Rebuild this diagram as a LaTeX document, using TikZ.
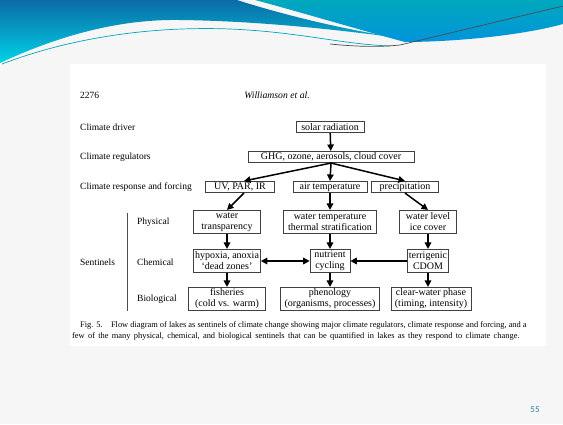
\documentclass[tikz,border=0pt]{standalone}
\usepackage{fontspec}
\setmainfont{Liberation Serif}
\newfontfamily\slidefont{Carlito}
\usetikzlibrary{arrows.meta}

\definecolor{hdrdark}{HTML}{0A6CA6}
\definecolor{hdrcyan}{HTML}{00D2E6}
\definecolor{hdrteal}{HTML}{00A8BC}
\definecolor{hdrblue}{HTML}{0094DC}
\definecolor{slidebg}{HTML}{F6F6F6}
\definecolor{pagenum}{HTML}{2F7FA6}

\tikzset{
  box/.style={draw=black!75, line width=0.6pt, fill=white, inner sep=1pt,
    align=center, font=\rmfamily\fontsize{10}{11}\selectfont},
  onebox/.style={box, minimum height=11.5pt},
  twobox/.style={box, minimum height=23.5pt},
  rowlabel/.style={anchor=west, inner sep=0pt, font=\rmfamily\fontsize{9.5}{11}\selectfont},
  captext/.style={anchor=west, inner sep=0pt, font=\rmfamily\fontsize{8.4}{9}\selectfont},
  flow/.style={-{Triangle[length=6.5pt,width=6.5pt]}, line width=1.5pt},
  flowboth/.style={{Triangle[length=6.5pt,width=6.5pt]}-{Triangle[length=6.5pt,width=6.5pt]}, line width=1.5pt},
}

\begin{document}
\begin{tikzpicture}[x=1pt, y=-1pt]
    \useasboundingbox (0,0) rectangle (563,424);
    \fill[slidebg] (0,0) rectangle (563,424);

    % Header wave
    \shade[top color=hdrdark, bottom color=hdrcyan]
        (0,0) -- (237,0) .. controls (300,20) and (360,32) .. (400,38)
        .. controls (340,30) and (260,21) .. (180,20)
        .. controls (120,19) and (60,35) .. (0,63) -- cycle;
    \shade[top color=hdrteal, bottom color=hdrblue]
        (255,0) -- (563,0) -- (563,24) .. controls (520,36) and (450,42) .. (405,42)
        .. controls (360,30) and (300,12) .. (255,0) -- cycle;
    \draw[hdrcyan!80!black, line width=0.7pt]
        (2,64) .. controls (70,38) and (150,26) .. (230,29)
        .. controls (300,32) and (340,44) .. (390,46);
    \draw[black!70, line width=0.7pt] (330,44) .. controls (360,47) and (380,47) .. (400,45) -- (563,6);

    % Scanned page
    \fill[white] (70,64) rectangle (546,346);
    \node[anchor=west, inner sep=0pt, font=\rmfamily\fontsize{9.5}{10}\selectfont] (pgno) at (80,95) {2276};
    \node[inner sep=0pt, font=\rmfamily\itshape\fontsize{9.7}{10}\selectfont] (authors) at (277,95) {Williamson et al.};

    % Row labels
    \node[rowlabel] (driver) at (80,127) {Climate driver};
    \node[rowlabel] (regul) at (80,157) {Climate regulators};
    \node[rowlabel] (resp) at (80,187) {Climate response and forcing};
    \node[rowlabel] (sent) at (80,262) {Sentinels};
    \node[rowlabel] (phys) at (137,222) {Physical};
    \node[rowlabel] (chem) at (137,262) {Chemical};
    \node[rowlabel] (biol) at (137,299) {Biological};
    \draw[black!70, line width=0.6pt] (127,213) -- (127,311);

    % Boxes
    \node[onebox, minimum width=68pt] (solar) at (330,127) {solar radiation};
    \node[onebox, minimum width=166pt] (ghg) at (331,157) {GHG, ozone, aerosols, cloud cover};
    \node[onebox, minimum width=69pt] (uv) at (240,187) {UV, PAR, IR};
    \node[onebox, minimum width=74pt] (airt) at (330,187) {air temperature};
    \node[onebox, minimum width=67pt] (precip) at (405,187) {precipitation};

    \node[twobox, minimum width=67pt] (transp) at (227,222) {water\\transparency};
    \node[twobox, minimum width=93pt] (watert) at (330,222) {water temperature\\thermal stratification};
    \node[twobox, minimum width=57pt] (level) at (428,222) {water level\\ice cover};

    \node[twobox, minimum width=67pt] (hypox) at (227,261) {hypoxia, anoxia\\`dead zones'};
    \node[twobox, minimum width=40pt] (nutr) at (330,261) {nutrient\\cycling};
    \node[twobox, minimum width=41pt] (cdom) at (428,261) {terrigenic\\CDOM};

    \node[twobox, minimum width=77pt] (fish) at (227,299) {fisheries\\(cold vs. warm)};
    \node[twobox, minimum width=99pt] (phen) at (330,299) {phenology\\(organisms, processes)};
    \node[twobox, minimum width=80pt] (clearw) at (431,299) {clear-water phase\\(timing, intensity)};

    % Arrows
    \draw[flow] (solar) -- (ghg);
    \draw[flow] (ghg.south) -- ([xshift=4pt]uv.north);
    \draw[flow] (ghg.south) -- (airt.north);
    \draw[flow] (ghg.south) -- (precip.north);
    \draw[flow] ([xshift=4pt]uv.south) -- (transp.north);
    \draw[flow] (airt) -- (watert);
    \draw[flow] (precip.south) -- (level.north);
    \draw[flow] (transp) -- (hypox);
    \draw[flow] (watert) -- (nutr);
    \draw[flow] (level) -- (cdom);
    \draw[flowboth] (hypox) -- (nutr);
    \draw[flow] (cdom) -- (nutr);
    \draw[flow] (hypox) -- (fish);
    \draw[flow] (nutr) -- (phen);
    \draw[flow] (cdom.south) -- (cdom.south |- clearw.north);

    % Caption
    \node[captext] (capa) at (80,325)
        {Fig. 5.\quad Flow diagram of lakes as sentinels of climate change showing major climate regulators, climate response and forcing, and a};
    \node[captext] (capb) at (72,336)
        {\spaceskip=3.3pt few of the many physical, chemical, and biological sentinels that can be quantified in lakes as they respond to climate change.};

    % Slide number
    \node[inner sep=0pt, text=pagenum, font=\slidefont\fontsize{9}{10}\selectfont] (slideno) at (535,410) {55};
\end{tikzpicture}
\end{document}
